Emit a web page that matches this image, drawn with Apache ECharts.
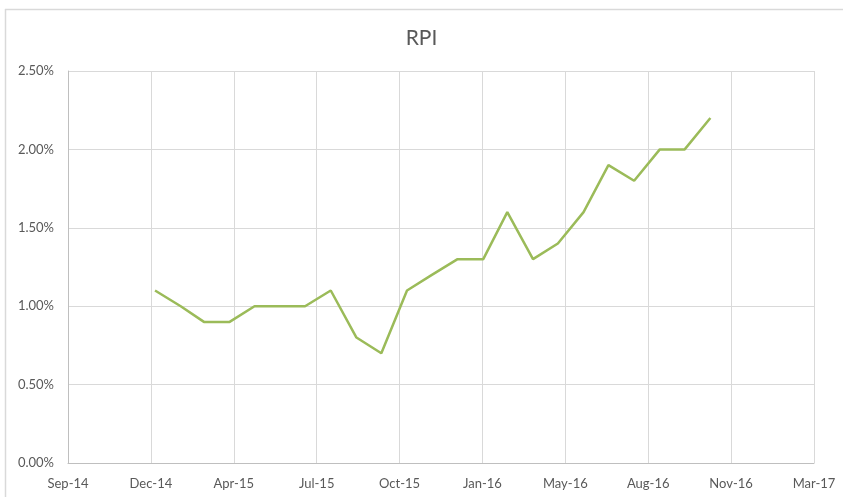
<!DOCTYPE html>
<html>
<head>
<meta charset="utf-8">
<script src="https://cdn.jsdelivr.net/npm/echarts@6/dist/echarts.min.js"></script>
<style>
html,body{margin:0;padding:0;background:#fff;}
#chart{width:843px;height:497px;}
</style>
</head>
<body>
<div id="chart"></div>
<script>
// Data (month-end dates)
var dates = ['2014-12-31','2015-01-31','2015-02-28','2015-03-31','2015-04-30','2015-05-31','2015-06-30','2015-07-31','2015-08-31','2015-09-30','2015-10-31','2015-11-30','2015-12-31','2016-01-31','2016-02-29','2016-03-31','2016-04-30','2016-05-31','2016-06-30','2016-07-31','2016-08-31','2016-09-30','2016-10-31'];
var rpi = [1.1,1.0,0.9,0.9,1.0,1.0,1.0,1.1,0.8,0.7,1.1,1.2,1.3,1.3,1.6,1.3,1.4,1.6,1.9,1.8,2.0,2.0,2.2];
var monthNames = ['Jan','Feb','Mar','Apr','May','Jun','Jul','Aug','Sep','Oct','Nov','Dec'];
var xAxisStart = '2014-09-17';
var xAxisStepDays = 100;
var xAxisSteps = 9;
var yTicks = [0, 0.5, 1.0, 1.5, 2.0, 2.5];

function toTs(s){ var p = s.split('-'); return Date.UTC(+p[0], +p[1]-1, +p[2]); }
var DAY = 86400000;
var xmin = toTs(xAxisStart);
var xmax = xmin + xAxisSteps * xAxisStepDays * DAY;

var seriesData = dates.map(function(d, i){ return [toTs(d), rpi[i]]; });

var chart = echarts.init(document.getElementById('chart'), null, {renderer:'canvas'});
var font = 'Lato, "Open Sans", sans-serif';
chart.setOption({
  animation: false,
  backgroundColor: '#fff',
  title: {
    text: 'RPI',
    left: 'center',
    top: 23,
    textStyle: {fontFamily: font, fontSize: 21, fontWeight: 'normal', color: '#595959'}
  },
  graphic: [
    {type:'line', shape:{x1:5, y1:9.5, x2:843, y2:9.5}, style:{stroke:'#d9d9d9', lineWidth:1.5}, silent:true},
    {type:'line', shape:{x1:5.5, y1:9, x2:5.5, y2:497}, style:{stroke:'#d9d9d9', lineWidth:1.5}, silent:true}
  ],
  grid: {left: 68, right: 29, top: 71, bottom: 34, containLabel: false},
  xAxis: {
    type: 'value',
    min: xmin,
    max: xmax,
    interval: xAxisStepDays * DAY,
    axisLine: {show: true, lineStyle: {color: '#bfbfbf', width: 1}},
    axisTick: {show: false},
    splitLine: {show: true, lineStyle: {color: '#d9d9d9', width: 1}},
    axisLabel: {
      margin: 14,
      fontFamily: font, fontSize: 13, color: '#595959',
      formatter: function(v){
        var d = new Date(v);
        return monthNames[d.getUTCMonth()] + '-' + String(d.getUTCFullYear()).slice(2);
      }
    }
  },
  yAxis: {
    type: 'value',
    min: yTicks[0],
    max: yTicks[yTicks.length-1],
    interval: 0.5,
    axisLine: {show: true, lineStyle: {color: '#bfbfbf', width: 1}},
    axisTick: {show: false},
    splitLine: {show: true, lineStyle: {color: '#d9d9d9', width: 1}},
    axisLabel: {
      margin: 14,
      fontFamily: font, fontSize: 13, color: '#595959',
      formatter: function(v){ return v.toFixed(2) + '%'; }
    }
  },
  series: [{
    type: 'line',
    name: 'RPI',
    data: seriesData,
    symbol: 'none',
    lineStyle: {color: '#9bbb59', width: 2.5},
    itemStyle: {color: '#9bbb59'}
  }]
});
</script>
</body>
</html>
